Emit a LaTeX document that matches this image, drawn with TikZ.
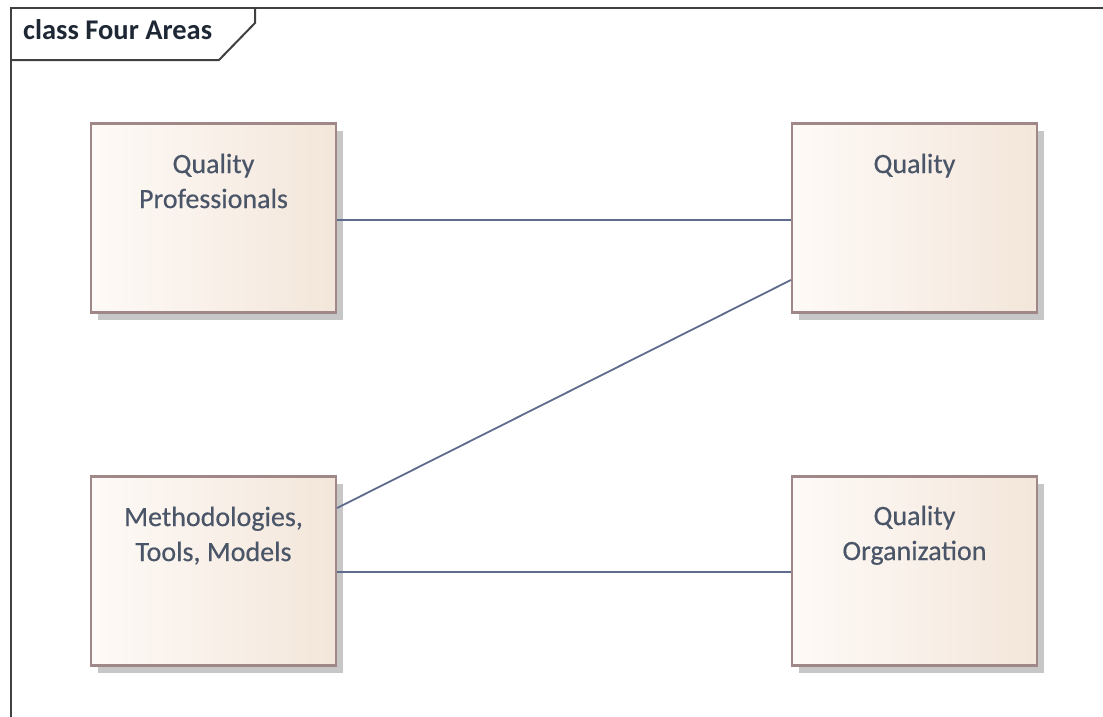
\documentclass[tikz,border=0pt]{standalone}
\usepackage{fontspec}
\setmainfont{Carlito}
\newfontfamily\elnamefont[FakeBold=0.4]{Carlito}
\usetikzlibrary{shadows,calc}
\definecolor{framegray}{HTML}{404040}
\definecolor{boxborder}{HTML}{A08888}
\definecolor{boxleft}{HTML}{FEFAF7}
\definecolor{boxright}{HTML}{F3E6DA}
\definecolor{linkblue}{HTML}{5E6B8C}
\definecolor{nametext}{HTML}{4A5568}
\definecolor{titletext}{HTML}{1E2835}
\begin{document}
\begin{tikzpicture}[x=1pt,y=-1pt,
  frameline/.style={draw=framegray,line width=2pt},
  element/.style={draw=boxborder,line width=2.2pt,left color=boxleft,right color=boxright,
    minimum width=245pt,minimum height=189pt,inner sep=0pt,
    drop shadow={shadow xshift=7pt,shadow yshift=-7pt,fill=black!22,opacity=1}},
  elname/.style={anchor=north,align=center,inner sep=0pt,text=nametext,
    font=\elnamefont\fontsize{28}{35}\selectfont},
  link/.style={draw=linkblue,line width=1.8pt}]
\useasboundingbox (0,0) rectangle (1103,716);

% diagram frame with its name tab
\draw[frameline] (11,730) -- (11,8) -- (1110,8);
\draw[frameline] (11,60) -- (219,60) -- (255,23) -- (255,8);
\node[anchor=base west,inner sep=0pt,text=titletext,font=\fontsize{28.5}{34}\selectfont\bfseries]
  (title) at (23,39) {class Four Areas};

% elements
\node[element] (qp)  at (213.5,218) {};
\node[element] (ql)  at (914.5,218) {};
\node[element] (mtm) at (213.5,571) {};
\node[element] (qo)  at (914.5,571) {};

\node[elname] (qpname)  at ($(qp.north)+(0,31)$)  {Quality\\Professionals};
\node[elname] (qlname)  at ($(ql.north)+(0,31)$)  {Quality};
\node[elname] (mtmname) at ($(mtm.north)+(0,31)$) {Methodologies,\\Tools, Models};
\node[elname] (qoname)  at ($(qo.north)+(0,30)$)  {Quality\\Organization};

% associations
\draw[link] ($(qp.east)+(0,2)$) -- ($(ql.west)+(0,2)$);
\draw[link] ($(ql.west)+(0,62)$) -- ($(mtm.east)+(0,-63)$);
\draw[link] ($(mtm.east)+(0,1)$) -- ($(qo.west)+(0,1)$);
\end{tikzpicture}
\end{document}
